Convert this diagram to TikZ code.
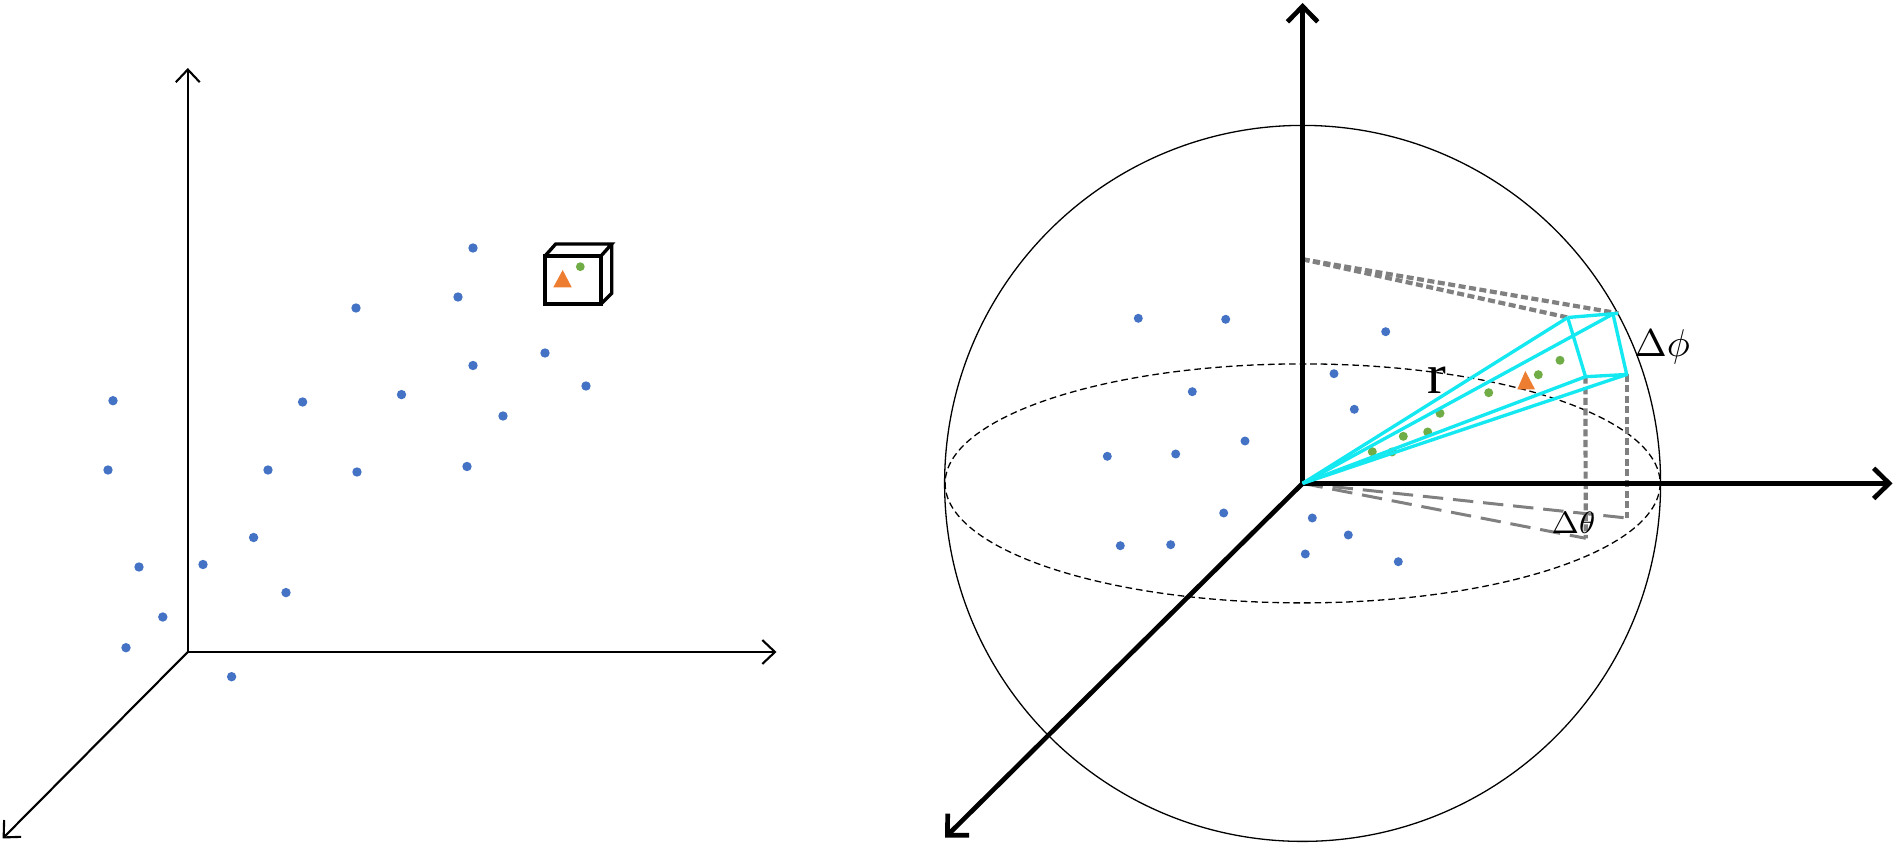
\RequirePackage{fix-cm}
\documentclass[tikz,border=0pt]{standalone}
\usepackage{fontspec}
\newfontfamily\timesfont{Liberation Serif}
\usetikzlibrary{arrows.meta}
\definecolor{dotblue}{RGB}{68,114,196}
\definecolor{dotgreen}{RGB}{112,173,71}
\definecolor{triorange}{RGB}{237,125,49}
\definecolor{wedgecyan}{RGB}{20,232,240}
\definecolor{guidegray}{RGB}{128,128,128}
\tikzset{
  laxis/.style={line width=0.6pt, line cap=round, -{Straight Barb[length=3.6pt,width=6.8pt,line width=0.6pt]}},
  raxis/.style={line width=1.33pt, -{Straight Barb[length=4.4pt,width=8.6pt,line width=1.33pt]}},
  thinline/.style={line width=0.37pt},
  eqline/.style={line width=0.37pt, dash pattern=on 1.9pt off 1.1pt},
  cubeline/.style={line width=0.95pt, line join=miter},
  wedge/.style={wedgecyan, line width=0.95pt, line join=round},
  dotguide/.style={guidegray, line width=1.2pt, dash pattern=on 2pt off 1pt},
  longguide/.style={guidegray, line width=0.85pt, dash pattern=on 5.8pt off 2.8pt},
  lbl/.style={inner sep=0pt, anchor=base west},
}
\begin{document}
\begin{tikzpicture}[x=0.01cm,y=-0.01cm]
\useasboundingbox (0,0) rectangle (1896,846);
\fill[white] (0,0) rectangle (1896,846);

% ---------------- left panel ----------------
\coordinate (LO) at (187.8,652);
\coordinate (LZ) at (187.8,68);
\coordinate (LX) at (776.5,652);
\coordinate (LY) at (2.6,838.5);
\draw[laxis] (LO) -- (LZ);
\draw[laxis] (LO) -- (LX);
\draw[laxis] (LO) -- (LY);

\foreach \p in {(473,248),(458,297),(356,308),(473,365.5),(545,353),(586,386),
  (401.5,394.6),(302.6,402),(503,416),(113,400.7),(108,470),(268,470),(357,472),
  (467,466.5),(253.6,537.5),(139,567),(203,564.5),(286,592.6),(162.8,617),
  (126,647.7),(231.6,676.7)}
  \fill[dotblue] \p circle[radius=4.7];

% cube
\draw[cubeline] (545,256) rectangle (601,304);
\draw[cubeline] (545,256) -- (555.7,244) -- (611.7,244) -- (601,256);
\draw[cubeline] (611.7,244) -- (611.7,293.3) -- (601,304);
\fill[triorange] (562.7,270) -- (553.3,287.3) -- (571.7,287.3) -- cycle;
\fill[dotgreen] (580.3,266.7) circle[radius=4.4];

% ---------------- right panel ----------------
\coordinate (O) at (1302.6,483.4);
\coordinate (ZT) at (1302.6,3);
\coordinate (XT) at (1892.5,483.4);
\coordinate (YT) at (945,837.7);

\draw[thinline] (O) circle[radius=358];
\draw[eqline] (O) ellipse[x radius=357.5, y radius=119.5];

\foreach \p in {(1138.3,318.3),(1225.7,319.3),(1385.7,331.7),(1334,373.7),
  (1192.3,391.7),(1354.3,409.3),(1245,441),(1107.3,456.3),(1175.7,454),
  (1223.7,513),(1120.3,545.7),(1170.7,544.7),(1312.3,518),(1348.3,535),
  (1305.3,554),(1398.3,561.7)}
  \fill[dotblue] \p circle[radius=4.5];

% wedge corners
\coordinate (P1) at (1567.7,317.5);
\coordinate (P2) at (1613,314);
\coordinate (P2e) at (1618.3,313.3);
\coordinate (P3) at (1626.7,374.5);
\coordinate (P4) at (1585.5,376.7);
\coordinate (ZA) at (1302.6,259.3);
\coordinate (F4) at (1585.7,538.3);
\coordinate (F3) at (1626.7,518);

% gray guides
\draw[dotguide] (ZA) -- (P2e);
\draw[dotguide] (ZA) -- (P1);
\draw[dotguide] (P4) -- (F4);
\draw[dotguide] (P3) -- (F3);
\draw[longguide] (O) -- (F3);
\draw[longguide] (O) -- (F4);

% green dots and triangle
\foreach \p in {(1560,360.3),(1538.3,374.7),(1488.7,392.7),(1440,413.3),
  (1427.7,432),(1403.3,436.3),(1392,452),(1372.3,451.7)}
  \fill[dotgreen] \p circle[radius=4.5];
\fill[triorange] (1525.3,371) -- (1517.3,389.3) -- (1535,389.3) -- cycle;

% axes
\draw[raxis] (O) -- (ZT);
\draw[raxis] (O) -- (XT);
\draw[raxis] (O) -- (YT);

% cyan wedge
\draw[wedge] (O) -- (P1);
\draw[wedge] (O) -- (P2);
\draw[wedge] (O) -- (P3);
\draw[wedge] (O) -- (P4);
\draw[wedge] (P1) -- (P2e);
\draw[wedge] (P1) -- (P4) -- (P3) -- (P2);

% labels
\node[lbl, font=\timesfont\fontsize{16}{16}\selectfont] (rlab) at (1426.7,393.3) {r};
\node[lbl, font=\fontsize{11}{13}\selectfont] (dphi) at (1634,357) {$\Delta\phi$};
\node[lbl, font=\fontsize{8.8}{10}\selectfont] (dtheta) at (1551,533.3) {$\Delta\theta$};
\end{tikzpicture}
\end{document}
